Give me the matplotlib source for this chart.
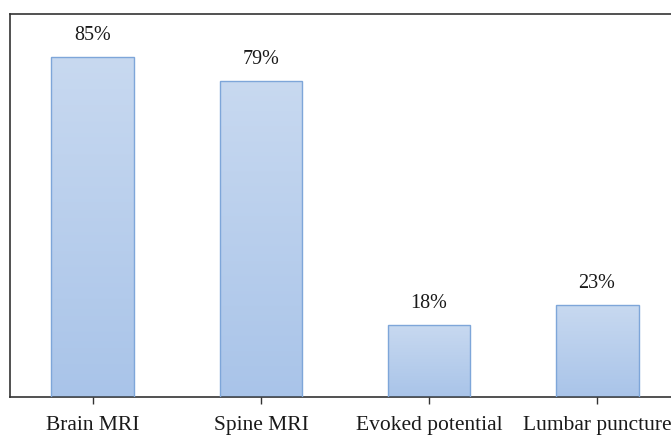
import numpy as np
import matplotlib
matplotlib.use("Agg")
import matplotlib.pyplot as plt
from matplotlib.colors import LinearSegmentedColormap

categories = ["Brain MRI", "Spine MRI", "Evoked potential", "Lumbar puncture"]
values = [85, 79, 18, 23]
value_labels = ["85%", "79%", "18%", "23%"]

plt.rcParams["font.family"] = ["Liberation Serif", "DejaVu Serif"]

fig = plt.figure(figsize=(6.71, 4.36), dpi=100)
ax = fig.add_axes([10 / 671, 39 / 436, 670 / 671, 383 / 436])

x = np.arange(len(categories))
width = 0.494
bars = ax.bar(x, values, width=width, facecolor="none", edgecolor="#7ea6d9",
              linewidth=1.0, zorder=3)

grad_cmap = LinearSegmentedColormap.from_list("bar_grad", ["#a9c4e9", "#c8d9f0"])
grad = np.linspace(0, 1, 256).reshape(-1, 1)
for rect in bars:
    x0, y0 = rect.get_x(), rect.get_y()
    w, h = rect.get_width(), rect.get_height()
    im = ax.imshow(grad, cmap=grad_cmap, origin="lower", aspect="auto",
                   extent=[x0, x0 + w, y0, y0 + h], zorder=2)
    im.set_clip_path(rect)

for xi, v, lab in zip(x, values, value_labels):
    ax.text(xi, v + 2.9, lab, ha="center", va="bottom", fontsize=14.5, color="#1a1a1a")

ax.set_xlim(-0.494, 3.494)
ax.set_ylim(0, 95.75)
ax.set_xticks(x)
ax.set_xticklabels(categories, fontsize=15.5, color="#1a1a1a")
ax.set_yticks([])
ax.tick_params(axis="x", length=5, width=1, pad=9, color="#333333")
for s in ax.spines.values():
    s.set_color("#333333")
    s.set_linewidth(1.2)

fig.savefig("out.png", dpi=100)
